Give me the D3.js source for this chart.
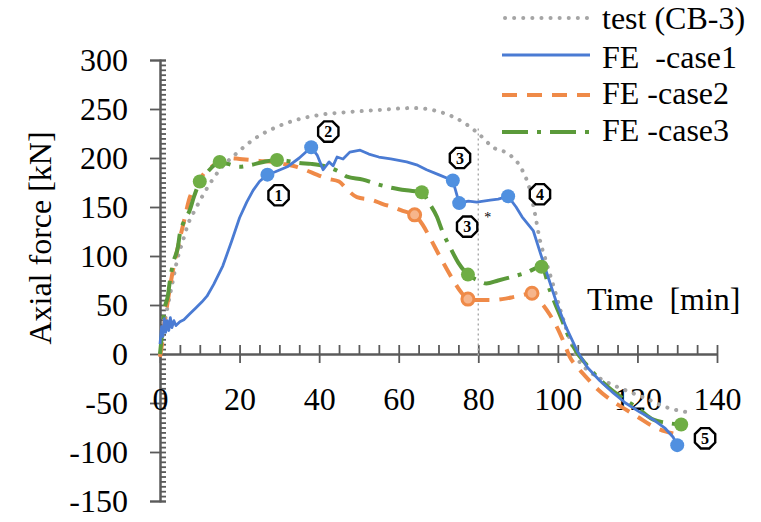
<!DOCTYPE html>
<html>
<head>
<meta charset="utf-8">
<script src="https://cdn.jsdelivr.net/npm/d3@7"></script>
<style>
  html, body { margin: 0; padding: 0; background: #fff; }
  svg { display: block; }
  text { font-family: "Liberation Serif", "Times New Roman", serif; fill: #000; }
</style>
</head>
<body>
<svg id="chart" width="761" height="522"></svg>
<script>
// Axial force of column CB-3 during the fire test and three FE cases
const xTicks = [0, 20, 40, 60, 80, 100, 120, 140];
const yTicks = [-150, -100, -50, 0, 50, 100, 150, 200, 250, 300];

const testSeries = [
  [0,0],[1,28],[2,50],[3,70],[4.5,99],[5.8,116],[7,132],[8.8,147],[11.8,169],[15,188],
  [19.3,205],[23.9,220],[28.4,230],[34.4,239],[40.2,244],[47.7,247],[55,249],[63.6,251],
  [70.4,247],[76,237],[80,225],[83.7,211],[88,203],[91,188],[93,167],[94.2,144],[95.5,116],
  [97,95],[99,68],[101,40],[103,15],[105,-5],[108,-18],[112,-28],[117,-37],[122,-45],
  [127,-54],[132,-59]
];

const case1Series = [
  [0,10],[0.4,28],[0.7,18],[1.1,36],[1.4,22],[1.8,34],[2.2,24],[2.6,37],[3,27],[3.5,34],
  [4,29],[5,33],[6,35],[7.5,41],[9,47],[10.5,53],[11.8,59],[13.5,71],[15.8,90],[18,115],
  [20,139],[21.8,155],[23.4,167],[25,176],[27,183],[29,186],[32,191],[35,200],[38,211],
  [39.5,203],[41,188],[42.5,196],[43.5,192],[44.5,201],[46,199],[47.7,206],[50.3,208],
  [52.5,204],[55,201],[58,199],[62,196],[64.5,193],[67,188],[70,183],[73.6,177],[75.2,154],
  [77.5,156],[79.6,155],[83,157],[85,158],[87.5,161],[89.5,150],[91,140],[93.8,126],
  [96.7,89],[99.7,52],[102,28],[105,2],[107.5,-14],[110.5,-27],[114,-40],[117,-50],
  [120.5,-59],[124,-67],[127,-76],[129,-85],[130,-93]
];

const case2Series = [
  [0,-3],[0.5,10],[1,28],[2,55],[3,80],[4,100],[5,118],[6,135],[7.5,160],[9,172],[11,184],
  [13,191],[15,197],[17.6,200],[20,199],[22.6,198],[25,197],[28.4,196],[31,194],[34.4,191],
  [37,187],[39.4,183],[42,179],[45,176],[47,168],[49.5,160],[53.5,157],[56,153],[58.5,150],
  [61,146],[64,142],[66,132],[67.8,119],[70.4,99],[73.6,76],[75.5,64],[77.4,56],[80,55],
  [83,55],[86,56],[88.7,58],[91,60],[93.5,62],[96.3,50],[98,40],[99.7,28],[101.5,12],
  [103,-3],[105,-14],[107,-23],[110,-36],[113,-46],[116,-54],[120,-64],[124,-74],[127,-79],
  [129,-81]
];

const case3Series = [
  [0,0],[0.5,20],[1,42],[2,60],[2.5,75],[3.3,93],[4.5,109],[5,123],[6,135],[7.5,147],
  [8.5,160],[10,176],[12,186],[15,196],[17,194],[20,191],[23,193],[26,196],[29.4,198],
  [32,197],[35,195],[38,194],[42,191],[45,186],[47,181],[51,178],[54,174],[57.8,170],
  [62,167],[65.8,165],[67.5,155],[69.6,140],[71,125],[72.9,109],[75,93],[77.4,81],[80,75],
  [82,72],[85,75],[88.7,79],[92,83],[95.9,89],[98,65],[101.3,32],[103,15],[104.7,2],
  [107,-10],[109.8,-23],[113,-35],[117,-47],[120,-55],[124,-67],[127,-70],[131,-72]
];

const case1Markers = [[27,183],[38,211],[73.6,177],[75.2,154],[87.5,161],[130,-93]];
const case2Markers = [[64,142],[77.4,56],[93.5,62]];
const case3Markers = [[10,176],[15,196],[29.4,198],[65.8,165],[77.4,81],[95.9,89],[131,-72]];

// stage labels placed next to the FE-case1 curve
const stageLabels = [
  { n: "1", t: 29.8, v: 162 },
  { n: "2", t: 42.3, v: 227 },
  { n: "3", t: 75.4, v: 200 },
  { n: "3", t: 77.2, v: 130 },
  { n: "4", t: 95.5, v: 163 },
  { n: "5", t: 137, v: -86 }
];

const legendItems = [
  { name: "test (CB-3)", key: "test" },
  { name: "FE\u00a0 -case1", key: "c1" },
  { name: "FE -case2", key: "c2" },
  { name: "FE -case3", key: "c3" }
];

const styles = {
  test: { color: "#a5a5a5", width: 4, dash: "0.1,9", cap: "round" },
  c1:   { color: "#4a7bd3", width: 2.8, dash: null, cap: "butt" },
  c2:   { color: "#ef8a48", width: 4, dash: "15,10", cap: "butt" },
  c3:   { color: "#5b9a3a", width: 4, dash: "26,9,4,9", cap: "butt" }
};

const svg = d3.select("#chart");
const x = d3.scaleLinear().domain([0, 140]).range([160, 717]);
const y = d3.scaleLinear().domain([-150, 300]).range([501, 60]);
const axisColor = "#5a5a5a";

const minorY = d3.range(-150, 301, 5);
const minorX = d3.range(0, 141, 5);
const plainNumber = d => String(d);

// y axis: major ticks on the left, minor ticks on the right side
svg.append("g").attr("transform", `translate(${x(0)},0)`)
  .call(d3.axisLeft(y).tickValues(yTicks).tickSize(10).tickPadding(22).tickFormat(plainNumber));
svg.append("g").attr("transform", `translate(${x(0)},0)`)
  .call(d3.axisRight(y).tickValues(minorY).tickSize(6).tickFormat(""));

// x axis on the zero line: major ticks below, minor ticks above
svg.append("g").attr("transform", `translate(0,${y(0)})`)
  .call(d3.axisBottom(x).tickValues(xTicks).tickSize(9).tickPadding(24).tickSizeOuter(0).tickFormat(plainNumber));
svg.append("g").attr("transform", `translate(0,${y(0)})`)
  .call(d3.axisTop(x).tickValues(minorX).tickSize(9).tickFormat("").tickSizeOuter(0));

svg.selectAll(".domain").attr("stroke", axisColor).attr("stroke-width", 2);
svg.selectAll(".tick line").attr("stroke", axisColor).attr("stroke-width", 1.8);
svg.selectAll(".tick text").style("font-size", "32px").style("font-family", "Liberation Serif").attr("fill", "#000");

// axis titles
svg.append("text")
  .attr("transform", "translate(40,238) rotate(-90)")
  .attr("text-anchor", "middle").attr("dy", "0.35em")
  .style("font-size", "32px")
  .text("Axial force [kN]");
svg.append("text")
  .attr("x", 587).attr("y", 310)
  .style("font-size", "32px")
  .text("Time\u00a0 [min]");

// vertical reference line at 80 min
svg.append("line")
  .attr("x1", x(80)).attr("x2", x(80))
  .attr("y1", y(230)).attr("y2", y(-2))
  .attr("stroke", "#a8a8a8").attr("stroke-width", 1.4).attr("stroke-dasharray", "2,3");

const smooth = d3.line().x(d => x(d[0])).y(d => y(d[1])).curve(d3.curveMonotoneX);
const straight = d3.line().x(d => x(d[0])).y(d => y(d[1]));

function drawSeries(data, key, gen) {
  const s = styles[key];
  svg.append("path").datum(data)
    .attr("d", gen)
    .attr("fill", "none")
    .attr("stroke", s.color)
    .attr("stroke-width", s.width)
    .attr("stroke-linecap", s.cap)
    .attr("stroke-linejoin", "round")
    .attr("stroke-dasharray", s.dash);
}

drawSeries(testSeries, "test", smooth);
drawSeries(case2Series, "c2", smooth);
drawSeries(case3Series, "c3", smooth);
drawSeries(case1Series, "c1", straight);

// point markers
svg.append("g").selectAll("circle").data(case2Markers).join("circle")
  .attr("cx", d => x(d[0])).attr("cy", d => y(d[1])).attr("r", 6)
  .attr("fill", "#f6b58c").attr("stroke", "#ef8a48").attr("stroke-width", 3);
svg.append("g").selectAll("circle").data(case3Markers).join("circle")
  .attr("cx", d => x(d[0])).attr("cy", d => y(d[1])).attr("r", 7)
  .attr("fill", "#6fae45");
svg.append("g").selectAll("circle").data(case1Markers).join("circle")
  .attr("cx", d => x(d[0])).attr("cy", d => y(d[1])).attr("r", 7)
  .attr("fill", "#5090e0");

// small asterisk near the 80 min line
svg.append("text").attr("x", x(82.4)).attr("y", y(141) + 6)
  .attr("text-anchor", "middle").style("font-size", "14px").attr("fill", "#777")
  .text("*");

// octagonal stage labels
const octR = 11;
const octPts = d3.range(8).map(i => {
  const a = Math.PI / 8 + i * Math.PI / 4;
  return [octR * Math.cos(a), octR * Math.sin(a)];
});
const stages = svg.append("g").selectAll("g").data(stageLabels).join("g")
  .attr("transform", d => `translate(${x(d.t)},${y(d.v)})`);
stages.append("polygon")
  .attr("points", octPts.map(p => p.join(",")).join(" "))
  .attr("fill", "#fff").attr("stroke", "#000").attr("stroke-width", 2.4);
stages.append("text")
  .attr("text-anchor", "middle").attr("dy", "0.36em")
  .style("font-size", "16px").style("font-weight", "bold")
  .text(d => d.n);

// legend
const lg = svg.append("g");
const rowLineY = [18, 55, 95, 132];
const rowTextY = [29, 68, 104, 141];
legendItems.forEach((it, i) => {
  const s = styles[it.key];
  lg.append("line")
    .attr("x1", it.key === "test" ? 505 : 502).attr("x2", 590)
    .attr("y1", rowLineY[i]).attr("y2", rowLineY[i])
    .attr("stroke", s.color).attr("stroke-width", s.width)
    .attr("stroke-linecap", s.cap).attr("stroke-dasharray", s.dash);
  lg.append("text")
    .attr("x", 602).attr("y", rowTextY[i])
    .style("font-size", "32px")
    .text(it.name);
});
</script>
</body>
</html>
